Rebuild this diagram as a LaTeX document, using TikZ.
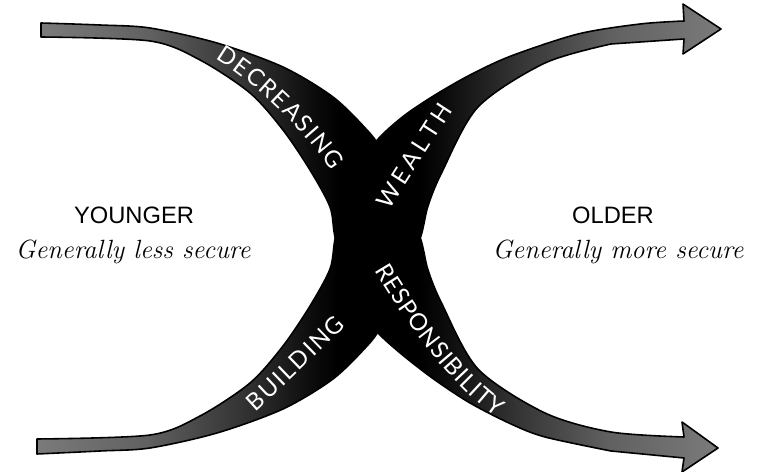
\documentclass[tikz,border=0pt]{standalone}
\usepackage{fontspec}
\setmainfont{Latin Modern Roman}
\newfontfamily\capsfont{Liberation Sans}
\newfontfamily\bandfont{Lato}
\usetikzlibrary{decorations.text}

\pgfdeclarehorizontalshading{bandfill}{100bp}{color(0bp)=(black!52); color(25bp)=(black!52); color(33bp)=(black!62); color(40bp)=(black!80); color(45bp)=(black!95); color(47bp)=(black); color(53bp)=(black); color(55bp)=(black!95); color(60bp)=(black!80); color(67bp)=(black!62); color(75bp)=(black!52); color(100bp)=(black!52)}

\begin{document}
\begin{tikzpicture}[
    x=0.02cm, y=-0.02cm,
    band/.style={draw=black, line width=0.9pt, line join=round, shade, shading=bandfill},
    agelabel/.style={font=\capsfont\fontsize{13.5}{16}\selectfont},
    sublabel/.style={font=\itshape\fontsize{15}{18}\selectfont},
    bandtext/.style={decoration={text along path, text={|\bandfont\fontsize{13.5}{16}\selectfont|#1}, text color=white, text align={fit to path}, raise=-4.8pt}, decorate}
]
\useasboundingbox (0,0) rectangle (758,472);

% falling band, arrow at the bottom right
\draw[band] plot[smooth] coordinates {(41,23) (100,25) (150,28) (217,43) (283,67) (333,97) (367,130) (380,148) (400,192) (420,237) (428,270) (442,304) (478,369) (545,413) (611,432) (684,437)}
    -- (682,422) -- (718,448) -- (682,472) -- (684,458)
    -- plot[smooth] coordinates {(611,451) (545,437) (511,424) (470,403) (435,380) (405,357) (380,335) (362,313) (348,285) (335,237) (330,207) (310,170) (283,130) (250,93) (200,60) (150,41) (41,37)}
    -- cycle;

% rising band, arrow at the top right
\draw[band] plot[smooth] coordinates {(37,439) (150,435) (200,416) (250,383) (283,346) (310,306) (330,269) (335,239) (345,195) (360,163) (380,137) (405,115) (435,95) (470,75) (511,56) (578,34) (640,24) (684,21)}
    -- (683,4) -- (721,29) -- (683,54) -- (684,39)
    -- plot[smooth] coordinates {(611,44) (545,63) (478,107) (442,172) (428,206) (420,239) (400,284) (380,328) (367,346) (333,379) (283,409) (217,433) (150,448) (100,451) (37,454)}
    -- cycle;

% words along the bands
\path[bandtext=DECREASING] (220,52) .. controls (255,72) and (312,125) .. (338,166);
\path[bandtext=WEALTH] (382,206) .. controls (400,178) and (425,138) .. (446,106);
\path[bandtext=BUILDING] (250,406) .. controls (277,382) and (318,341) .. (340,320);
\path[bandtext=RESPONSIBILITY] (382,266) .. controls (405,305) and (455,380) .. (502,410);

\node[agelabel] (young) at (134,215) {YOUNGER};
\node[sublabel] (youngsub) at (133,252) {Generally less secure};
\node[agelabel] (old) at (613,215) {OLDER};
\node[sublabel] (oldsub) at (618,252) {Generally more secure};
\end{tikzpicture}
\end{document}
